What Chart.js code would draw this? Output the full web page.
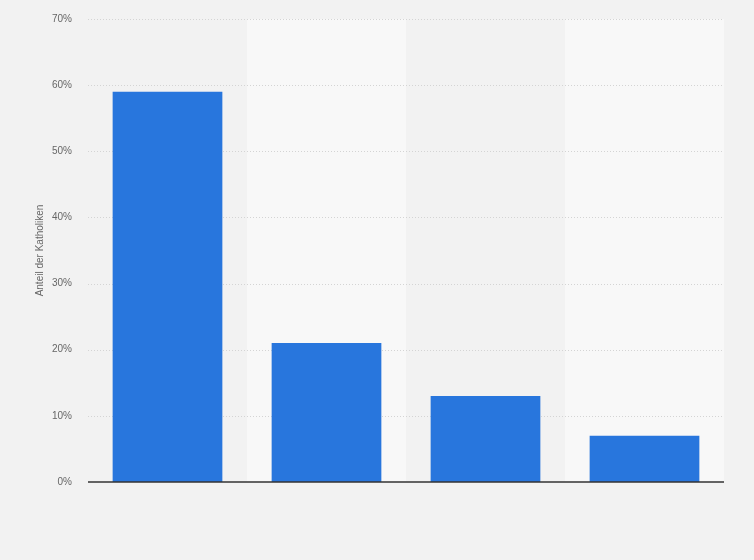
<!DOCTYPE html>
<html>
<head>
<meta charset="utf-8">
<script src="https://cdn.jsdelivr.net/npm/chart.js@4"></script>
<style>
  html, body { margin: 0; padding: 0; background: #f2f2f2; }
  #wrap { width: 754px; height: 560px; }
</style>
</head>
<body>
<div id="wrap"><canvas id="chart" width="754" height="560"></canvas></div>
<script>
// --- data ---
const categories = ['', '', '', ''];
const shares = [59, 21, 13, 7];
const yTicks = [0, 10, 20, 30, 40, 50, 60, 70];

// alternating column bands behind the bars
const bandPlugin = {
    id: 'bands',
    beforeDatasetsDraw(chart) {
        const { ctx, chartArea, scales } = chart;
        const x = scales.x;
        const step = (chartArea.right - chartArea.left) / categories.length;
        ctx.save();
        categories.forEach((c, i) => {
            const cx = x.getPixelForValue(i);
            ctx.fillStyle = i % 2 === 0 ? '#f2f2f2' : '#f8f8f8';
            ctx.fillRect(cx - step / 2, chartArea.top, step, chartArea.bottom - chartArea.top);
        });
        ctx.restore();
    }
};

// grid lines over the bands, zero line over the bars
const gridPlugin = {
    id: 'grid',
    beforeDatasetsDraw(chart) {
        const { ctx, chartArea, scales } = chart;
        ctx.save();
        ctx.strokeStyle = '#d4d4d4';
        ctx.lineWidth = 1;
        ctx.setLineDash([1, 2]);
        yTicks.forEach(v => {
            if (v === 0) return;
            const y = Math.round(scales.y.getPixelForValue(v)) + 0.5;
            ctx.beginPath();
            ctx.moveTo(chartArea.left, y);
            ctx.lineTo(chartArea.right, y);
            ctx.stroke();
        });
        ctx.restore();
    },
    afterDatasetsDraw(chart) {
        const { ctx, chartArea, scales } = chart;
        const y = scales.y.getPixelForValue(0);
        ctx.save();
        ctx.strokeStyle = '#333333';
        ctx.lineWidth = 1.5;
        ctx.beginPath();
        ctx.moveTo(chartArea.left, y);
        ctx.lineTo(chartArea.right, y);
        ctx.stroke();
        ctx.restore();
    }
};

new Chart(document.getElementById('chart'), {
    type: 'bar',
    data: {
        labels: categories,
        datasets: [{
            label: 'Anteil der Katholiken',
            data: shares,
            backgroundColor: '#2876dd',
            barPercentage: 0.69,
            categoryPercentage: 1.0
        }]
    },
    options: {
        responsive: false,
        animation: false,
        layout: { padding: { top: 19, right: 30, bottom: 70, left: 0 } },
        plugins: {
            legend: { display: false },
            tooltip: { enabled: false }
        },
        scales: {
            x: {
                grid: { display: false },
                border: { display: false },
                ticks: { display: false }
            },
            y: {
                min: 0,
                max: 70,
                afterFit(scale) {
                    scale.width = 88;
                    scale.paddingTop = 0;
                    scale.paddingBottom = 0;
                },
                afterBuildTicks(scale) { scale.ticks = yTicks.map(v => ({ value: v })); },
                grid: { display: false, drawTicks: false },
                border: { display: false },
                ticks: {
                    padding: 16,
                    color: '#666666',
                    font: { family: 'Liberation Sans, Arial, sans-serif', size: 10 },
                    callback: v => v + '%'
                },
                title: {
                    display: true,
                    text: 'Anteil der Katholiken',
                    color: '#666666',
                    padding: { top: 34, bottom: 0 },
                    font: { family: 'Liberation Sans, Arial, sans-serif', size: 10 }
                }
            }
        }
    },
    plugins: [bandPlugin, gridPlugin]
});
</script>
</body>
</html>
